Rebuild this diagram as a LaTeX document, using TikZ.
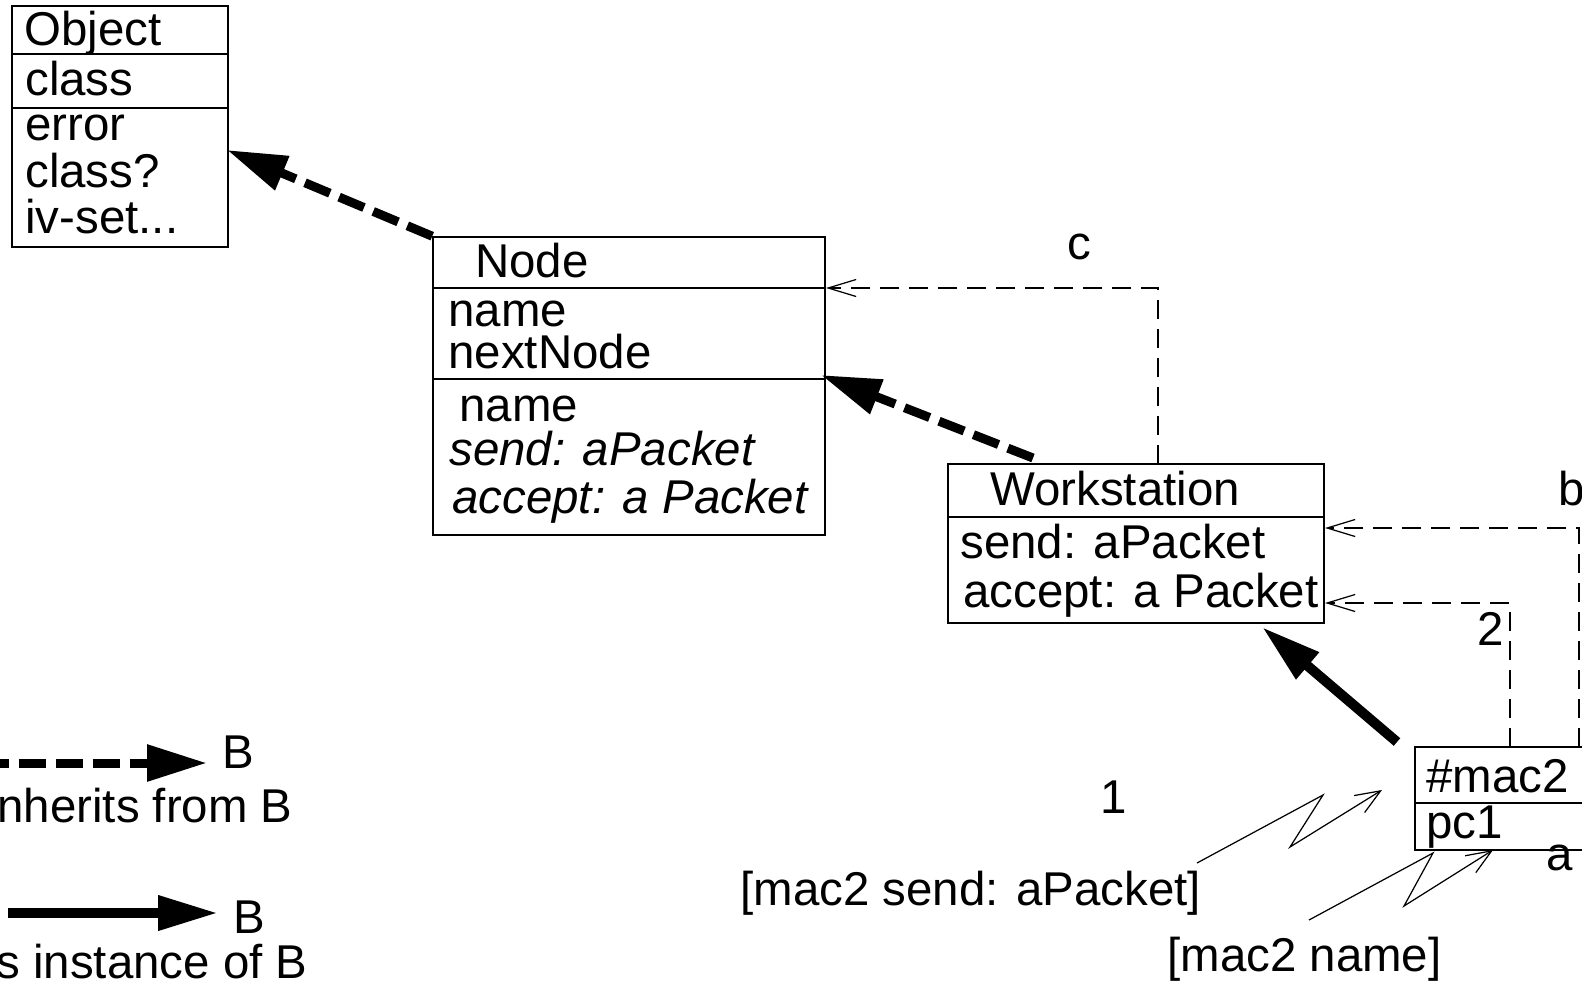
\documentclass[tikz,border=0pt]{standalone}
\usepackage{fontspec}
\setmainfont{Liberation Sans}
\usetikzlibrary{arrows.meta,fit}
\newcommand\diafont{\fontsize{27}{27}\selectfont}
\begin{document}
\begin{tikzpicture}[x=0.02cm,y=-0.02cm,
  box/.style={draw, line width=0.9pt, inner sep=0pt},
  rule/.style={line width=0.9pt},
  txt/.style={anchor=base west, inner sep=0pt, font=\diafont},
  itxt/.style={txt, font=\diafont\itshape},
  lbl/.style={anchor=base, inner sep=0pt, font=\diafont},
  inh/.style={line width=0.18cm, dash pattern=on 0.54cm off 0.2cm, -{Triangle[length=1.2cm,width=0.7cm]}},
  inst/.style={line width=0.2cm, -{Triangle[length=1.2cm,width=0.66cm]}},
  dep/.style={line width=0.7pt, dash pattern=on 0.38cm off 0.2cm, -{Straight Barb[length=0.56cm,width=0.34cm]}},
  msg/.style={line width=0.7pt, -{Straight Barb[length=0.5cm,width=0.4cm]}}
]
\path[use as bounding box] (0,0) rectangle (1582,984);
\clip (0,0) rectangle (1582,984);

% Object
\node[box, fit={(12,6) (228,247)}] (obj) {};
\draw[rule] (12,54) -- (228,54);
\draw[rule] (12,108) -- (228,108);
\node[txt] (o1) at (24,45) {Object};
\node[txt] (o2) at (25,95) {class};
\node[txt] (o3) at (25,140) {error};
\node[txt] (o4) at (25,187) {class?};
\node[txt] (o5) at (25,233) {iv-set...};

% Node
\node[box, fit={(433,237) (825,535)}] (node) {};
\draw[rule] (433,288) -- (825,288);
\draw[rule] (433,379) -- (825,379);
\node[txt] (n1) at (475,277) {Node};
\node[txt] (n2) at (448,326) {name};
\node[txt] (n3) at (448,368) {nextNode};
\node[txt] (n4) at (459,421) {name};
\node[itxt] (n5) at (449,465) {send: aPacket};
\node[itxt] (n6) at (452,513) {accept: a Packet};

% Workstation
\node[box, fit={(948,464) (1324,623)}] (ws) {};
\draw[rule] (948,517) -- (1324,517);
\node[txt] (w1) at (990,505) {Workstation};
\node[txt] (w2) at (960,558) {send: aPacket};
\node[txt] (w3) at (963,607) {accept: a Packet};

% #mac2
\node[box, fit={(1415,747) (1700,850)}] (mac) {};
\draw[rule] (1415,803) -- (1700,803);
\node[txt] (m1) at (1426,792) {\#mac2};
\node[txt] (m2) at (1426,838) {pc1};

% labels
\node[lbl] (lc) at (1079,259) {c};
\node[txt] (lb) at (1558,505) {b};
\node[txt] (l2) at (1477,645) {2};
\node[lbl] (l1) at (1114,813) {1};
\node[lbl] (la) at (1560,870) {a};
\node[txt] (msg1) at (740,905) {[mac2 send: aPacket]};
\node[txt] (msg2) at (1167,971) {[mac2 name]};

% connector end points
\coordinate (objIn) at (227,150);
\coordinate (nodeIn) at (821,375);
\coordinate (wsOut) at (1033,458);
\coordinate (nodeC) at (826,288);
\coordinate (wsC) at (1158,464);
\coordinate (wsB) at (1325,528);
\coordinate (wsTwo) at (1325,603);
\coordinate (macB) at (1579,747);
\coordinate (macTwo) at (1510,747);
\coordinate (macOut) at (1397,742);
\coordinate (wsIn) at (1262,627);
\coordinate (s1) at (1197,863);
\coordinate (s1a) at (1323,795);
\coordinate (s1b) at (1290,847);
\coordinate (s1c) at (1382,790);
\coordinate (s2) at (1309,920);
\coordinate (s2a) at (1433,853);
\coordinate (s2b) at (1404,906);
\coordinate (s2c) at (1493,850);

\draw[inh] (node.north west) -- (objIn);
\draw[inh] (wsOut) -- (nodeIn);
\draw[dep] (wsC) |- (nodeC);
\draw[dep] (macB) |- (wsB);
\draw[dep] (macTwo) |- (wsTwo);
\draw[inst] (macOut) -- (wsIn);
\draw[msg] (s1) -- (s1a) -- (s1b) -- (s1c);
\draw[msg] (s2) -- (s2a) -- (s2b) -- (s2c);

% legend
\coordinate (la0) at (-18,763);
\coordinate (la1) at (207,763);
\coordinate (lb0) at (8,913);
\coordinate (lb1) at (218,913);
\draw[inh] (la0) -- (la1);
\draw[inst] (lb0) -- (lb1);
\node[txt] (legB1) at (222,768) {B};
\node[txt, anchor=base east] (legT1) at (293,822) {nherits from B};
\node[txt] (legB2) at (233,933) {B};
\node[txt, anchor=base east] (legT2) at (308,978) {s instance of B};
\end{tikzpicture}
\end{document}
